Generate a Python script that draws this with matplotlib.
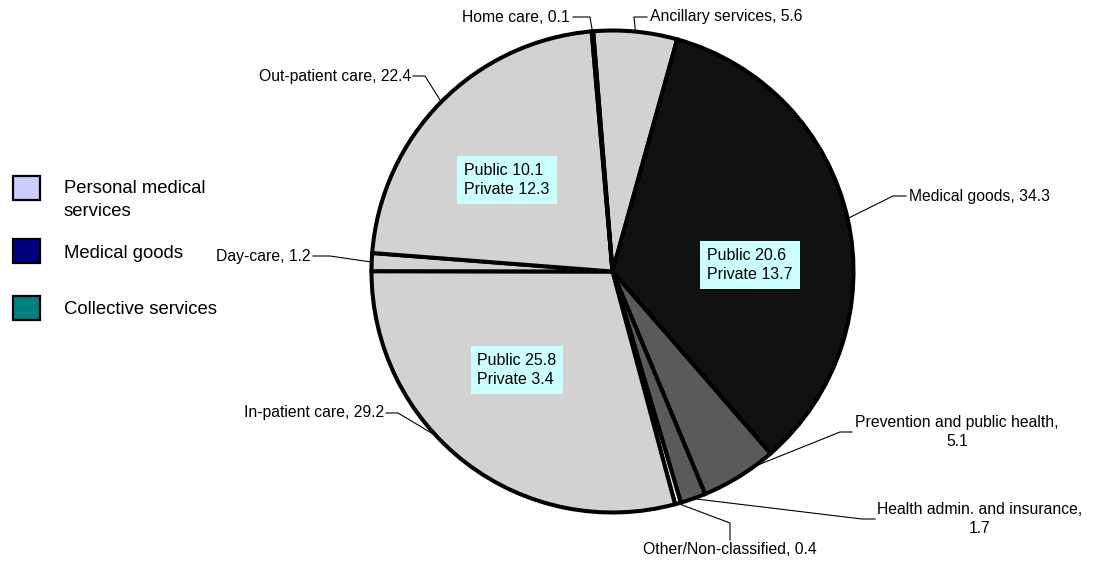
import numpy as np
import matplotlib.pyplot as plt
from matplotlib.patches import Rectangle

plt.rcParams['font.family'] = ['Liberation Sans', 'DejaVu Sans']

W, H = 1103, 567

# slices, clockwise from the top
categories = ['Ancillary services', 'Medical goods', 'Prevention and public health',
              'Health admin. and insurance', 'Other/Non-classified', 'In-patient care',
              'Day-care', 'Out-patient care', 'Home care']
values = [5.6, 34.3, 5.1, 1.7, 0.4, 29.2, 1.2, 22.4, 0.1]
slice_colors = ['#d2d2d2', '#111111', '#5a5a5a', '#5a5a5a', '#e4e4e4',
                '#d2d2d2', '#d2d2d2', '#d2d2d2', '#d2d2d2']

# public / private split shown in boxes
split_cats = ['Out-patient care', 'Medical goods', 'In-patient care']
split_public = [10.1, 20.6, 25.8]
split_private = [12.3, 13.7, 3.4]

legend_labels = ['Personal medical\nservices', 'Medical goods', 'Collective services']
legend_colors = ['#ccccff', '#000080', '#008080']

# label layout in image pixels: text pos, ha, leader bends, anchor fraction in slice
label_layout = {
    'Ancillary services': ((650, 17), 'left', [(634, 17), (647, 17)], 0.5),
    'Medical goods': ((909, 196), 'left', [(893, 196), (906, 196)], 0.5),
    'Prevention and public health': ((855, 432), 'left', [(840, 432), (852, 432)], 0.27),
    'Health admin. and insurance': ((877, 519), 'left', [(862, 519), (875, 519)], 0.5),
    'Other/Non-classified': ((730, 549), 'center', [(730, 523), (730, 540)], 0.5),
    'In-patient care': ((384, 413), 'right', [(398, 413), (386, 413)], 0.59),
    'Day-care': ((311, 256), 'right', [(330, 256), (313, 256)], 0.5),
    'Out-patient care': ((411, 76), 'right', [(425, 76), (413, 76)], 0.5),
    'Home care': ((570, 17), 'right', [(590, 17), (573, 17)], 0.5),
}
box_pos = {'Out-patient care': (507, 180), 'Medical goods': (750, 265), 'In-patient care': (517, 370)}

cx, cy, R = 612.5, H - 271.5, 241

fig = plt.figure(figsize=(W / 100, H / 100), dpi=100)
ax = fig.add_axes([0, 0, 1, 1])
wedges, _ = ax.pie(values, colors=slice_colors, startangle=94.6, counterclock=False,
                   center=(cx, cy), radius=R,
                   wedgeprops=dict(edgecolor='black', linewidth=2.9))
ax.set_xlim(0, W)
ax.set_ylim(0, H)
ax.set_aspect('equal')
ax.axis('off')

for w, cat, val in zip(wedges, categories, values):
    (tx, ty), ha, bends, frac = label_layout[cat]
    ang = np.radians(w.theta2 - frac * (w.theta2 - w.theta1))
    xs = [cx + R * np.cos(ang)] + [b[0] for b in bends]
    ys = [cy + R * np.sin(ang)] + [H - b[1] for b in bends]
    ax.plot(xs, ys, color='black', lw=0.8, zorder=1)
    if cat.startswith('Prevention') or cat.startswith('Health'):
        txt = f'{cat},\n{val}'
    else:
        txt = f'{cat}, {val}'
    ax.text(tx, H - ty, txt, ha=ha, va='center', fontsize=11.3,
            multialignment='center', linespacing=1.3)

for cat, pub, pri in zip(split_cats, split_public, split_private):
    bx, by = box_pos[cat]
    ax.text(bx, H - by, f'Public {pub}\nPrivate {pri}', ha='center', va='center',
            fontsize=11.5, linespacing=1.35, multialignment='left',
            bbox=dict(facecolor='#ccffff', edgecolor='none', pad=5))

leg_y = [188, 251, 308]
for lab, col, y in zip(legend_labels, legend_colors, leg_y):
    ax.add_patch(Rectangle((13, H - y - 12), 27, 24, facecolor=col,
                           edgecolor='black', lw=1.6))
    ty = y + 12 if '\n' in lab else y + 2
    ax.text(64, H - ty, lab, ha='left', va='center', fontsize=13.3, linespacing=1.5)

fig.savefig('out.png', dpi=100)
